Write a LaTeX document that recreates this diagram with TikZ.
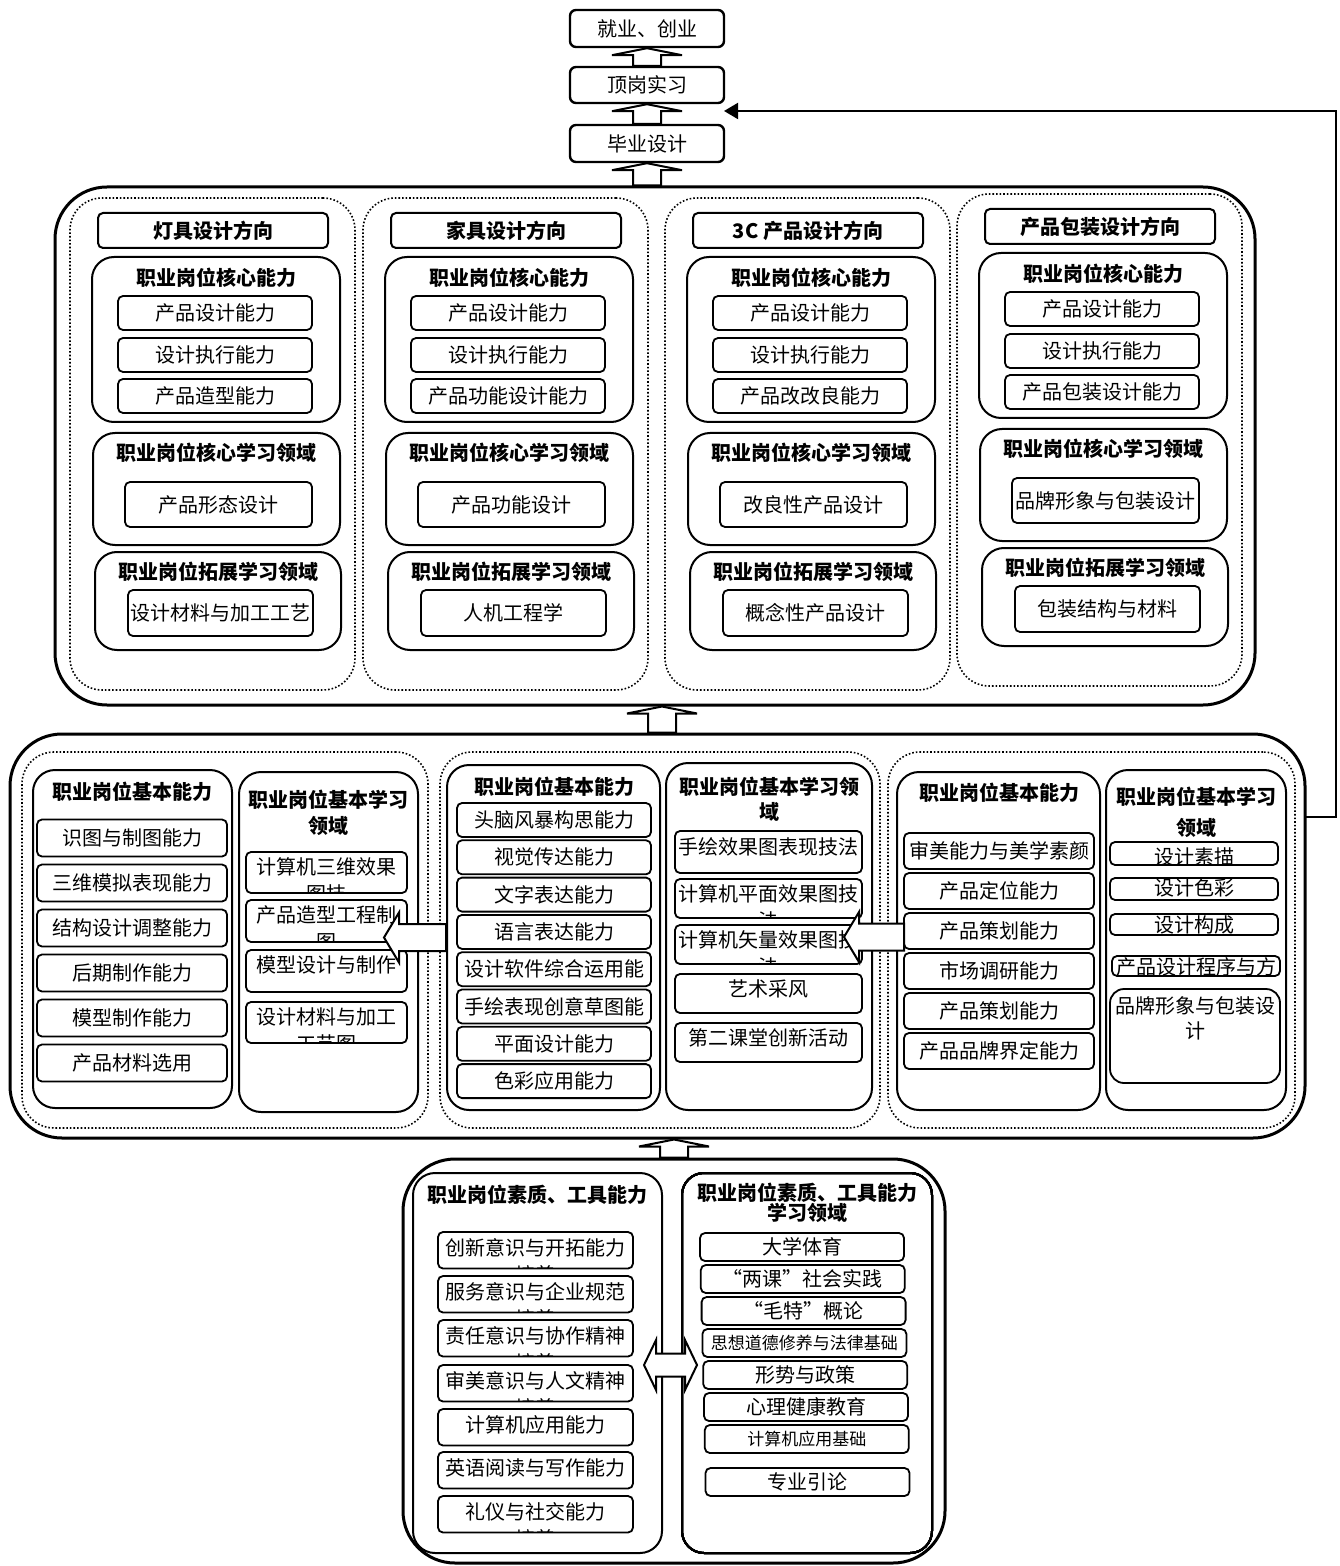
\documentclass[tikz,border=0pt]{standalone}
\usepackage{fontspec}
\setmainfont{Noto Sans CJK SC}
\usetikzlibrary{calc,fit,arrows.meta}

% hollow block arrows: tip, tail
\newcommand\uparr[2]{\draw[blk] let \p1=#1, \p2=#2 in
  (\x1,\y1) -- (\x1+17.5pt,\y1-3.5pt) -- (\x1+7pt,\y1-3.5pt) -- (\x1+7pt,\y2)
  -- (\x1-7pt,\y2) -- (\x1-7pt,\y1-3.5pt) -- (\x1-17.5pt,\y1-3.5pt) -- cycle;}
\newcommand\leftarr[2]{\draw[blk] let \p1=#1, \p2=#2 in
  (\x1,\y2) -- (\x1+7.5pt,\y2+12.5pt) -- (\x1+7.5pt,\y2+6.75pt) -- (\x2,\y2+6.75pt)
  -- (\x2,\y2-6.75pt) -- (\x1+7.5pt,\y2-6.75pt) -- (\x1+7.5pt,\y2-12.5pt) -- cycle;}
\newcommand\dblarr[2]{\draw[blk] let \p1=#1, \p2=#2 in
  (\x1,\y1) -- (\x1+6pt,\y1+12.5pt) -- (\x1+6pt,\y1+5.75pt) -- (\x2-6pt,\y1+5.75pt)
  -- (\x2-6pt,\y1+12.5pt) -- (\x2,\y1) -- (\x2-6pt,\y1-12.5pt) -- (\x2-6pt,\y1-5.75pt)
  -- (\x1+6pt,\y1-5.75pt) -- (\x1+6pt,\y1-12.5pt) -- cycle;}
% box whose text is cut off at its border
\newcommand\cutbox[7][]{%
  \begin{scope}
    \clip[rounded corners=2.5pt] (#3,#4) rectangle (#5,#6);
    \node[cut,#1] (#2) at ({(#3+#5)/2},{#4+5}) {#7};
  \end{scope}
  \draw[itm] (#3,#4) rectangle (#5,#6);}

\begin{document}
\begin{tikzpicture}[x=0.5pt,y=-0.5pt,
    outer/.style={draw,line width=1.5pt,rounded corners=26pt,inner sep=0pt},
    dots/.style={draw,densely dotted,line width=0.8pt,rounded corners=16pt,inner sep=0pt},
    pan/.style={draw,line width=1pt,rounded corners=11pt,inner sep=0pt},
    itm/.style={draw,line width=0.9pt,rounded corners=2.5pt,inner sep=0pt,font=\fontsize{10}{12}\selectfont},
    cut/.style={anchor=north,inner sep=0pt,align=center,font=\fontsize{10}{13.5}\selectfont},
    ttl/.style={inner sep=0pt,align=center,font=\bfseries\fontsize{10}{13}\selectfont},
    hdbox/.style={itm,line width=1pt,minimum width=115pt,minimum height=17.5pt,font=\bfseries\fontsize{10}{12}\selectfont},
    topbox/.style={itm,line width=1.2pt,rounded corners=3pt,minimum width=77pt},
    blk/.style={draw,fill=white,line width=1pt},
    fb/.style={line width=1pt,-{Triangle[length=7pt,width=8pt]}}]
\useasboundingbox (0,0) rectangle (1339,1566);

% top steps
\node[topbox,minimum height=18.5pt] (job) at (647,28.5) {就业、创业};
\node[topbox,minimum height=18pt] (intern) at (647,85) {顶岗实习};
\node[topbox,minimum height=18.5pt] (grad) at (647,143.5) {毕业设计};

% directions
\node[outer,fit={(55,187)(1255,705)}] (top) {};
\foreach \i/\dx/\dy/\dname/\capa/\capb/\capc/\core/\ext in {
    1/0/0/灯具设计方向/产品设计能力/设计执行能力/产品造型能力/产品形态设计/设计材料与加工工艺,
    2/293/0/家具设计方向/产品设计能力/设计执行能力/产品功能设计能力/产品功能设计/人机工程学,
    3/595/0/3C 产品设计方向/产品设计能力/设计执行能力/产品改改良能力/改良性产品设计/概念性产品设计,
    4/887/-4/产品包装设计方向/产品设计能力/设计执行能力/产品包装设计能力/品牌形象与包装设计/包装结构与材料}{
  \node[dots,fit={(70+\dx,198+\dy)(355+\dx,690+\dy)}] (dir\i) {};
  \node[hdbox] (hd\i) at (213+\dx,230.5+\dy) {\dname};
  \node[pan,fit={(92+\dx,257+\dy)(340+\dx,422+\dy)}] (cap\i) {};
  \node[ttl] (capT\i) at (216+\dx,278+\dy) {职业岗位核心能力};
  \node[itm,minimum width=97pt,minimum height=17pt] (ca\i) at (215+\dx,313+\dy) {\capa};
  \node[itm,minimum width=97pt,minimum height=17pt] (cb\i) at (215+\dx,355+\dy) {\capb};
  \node[itm,minimum width=97pt,minimum height=17pt] (cc\i) at (215+\dx,396+\dy) {\capc};
  \node[pan,fit={(93+\dx,433+\dy)(340+\dx,545+\dy)}] (st\i) {};
  \node[ttl] (stT\i) at (216+\dx,453+\dy) {职业岗位核心学习领域};
  \node[itm,minimum width=93.5pt,minimum height=22.5pt] (sti\i) at (218.5+\dx,504.5+\dy) {\core};
  \node[pan,fit={(95+\dx,552+\dy)(341+\dx,650+\dy)}] (ex\i) {};
  \node[ttl] (exT\i) at (218+\dx,572+\dy) {职业岗位拓展学习领域};
  \node[itm,minimum width=92.5pt,minimum height=23pt] (exi\i) at (220.5+\dx,613+\dy) {\ext};
}

% basic abilities
\node[outer,fit={(10,734)(1305,1138)}] (mid) {};
\node[dots,fit={(22,752)(428,1128)}] (grpA) {};
\node[dots,fit={(440,752)(880,1128)}] (grpB) {};
\node[dots,fit={(888,752)(1295,1128)}] (grpC) {};

\node[pan,fit={(33,770)(232,1108)}] (aAb) {};
\node[ttl] (aAbT) at (132,792) {职业岗位基本能力};
\foreach \t [count=\k from 0] in {识图与制图能力,三维模拟表现能力,结构设计调整能力,后期制作能力,模型制作能力,产品材料选用}
  \node[itm,minimum width=95pt,minimum height=18.5pt] (ab\k) at (132,838+45*\k) {\t};
\node[pan,fit={(239,772)(418,1112)}] (aLe) {};
\node[ttl] (aLeT) at (328,813) {职业岗位基本学习\\领域};
\cutbox{al1}{246}{852}{407}{893}{计算机三维效果\\图技}
\cutbox{al2}{246}{900}{407}{942}{产品造型工程制\\图}
\cutbox{al3}{246}{950}{407}{992}{模型设计与制作}
\cutbox{al4}{246}{1002}{407}{1043}{设计材料与加工\\工艺图}

\node[pan,fit={(447,765)(660,1110)}] (bAb) {};
\node[ttl] (bAbT) at (554,787) {职业岗位基本能力};
\foreach \t [count=\k from 0] in {头脑风暴构思能力,视觉传达能力,文字表达能力,语言表达能力,设计软件综合运用能,手绘表现创意草图能,平面设计能力,色彩应用能力}
  \node[itm,minimum width=97pt,minimum height=17pt] (bb\k) at (554,820+37.3*\k) {\t};
\node[pan,fit={(666,763)(872,1110)}] (bLe) {};
\node[ttl,font=\bfseries\fontsize{10}{12.5}\selectfont] (bLeT) at (769,799.5) {职业岗位基本学习领\\域};
\cutbox[yshift=-0.5pt]{bl1}{675}{831}{862}{873}{手绘效果图表现技法}
\cutbox{bl2}{675}{879}{862}{918}{计算机平面效果图技\\法}
\cutbox{bl3}{675}{925}{862}{964}{计算机矢量效果图技\\法}
\cutbox{bl4}{675}{974}{862}{1013}{艺术采风}
\cutbox{bl5}{675}{1023}{862}{1062}{第二课堂创新活动}

\node[pan,fit={(897,772)(1100,1110)}] (cAb) {};
\node[ttl] (cAbT) at (999,793) {职业岗位基本能力};
\foreach \t [count=\k from 0] in {审美能力与美学素颜,产品定位能力,产品策划能力,市场调研能力,产品策划能力,产品品牌界定能力}
  \node[itm,minimum width=95pt,minimum height=18pt] (cb\k) at (999,851+40*\k) {\t};
\node[pan,fit={(1106,770)(1286,1110)}] (cLe) {};
\node[ttl,font=\bfseries\fontsize{10}{15.5}\selectfont] (cLeT) at (1196,812.5) {职业岗位基本学习\\领域};
\cutbox{cl1}{1110}{842}{1278}{865}{设计素描}
\cutbox[yshift=2.5pt]{cl2}{1110}{878}{1278}{900}{设计色彩}
\cutbox[yshift=2pt]{cl3}{1110}{914}{1278}{935}{设计构成}
\cutbox[yshift=2pt]{cl4}{1112}{956}{1280}{976}{产品设计程序与方}
\draw[itm,rounded corners=7pt] (1110,989) rectangle (1280,1083);
\node[cut,font=\fontsize{10}{12.5}\selectfont] (cl5) at (1195,996) {品牌形象与包装设\\计};

% quality and tool abilities
\node[outer,fit={(403,1159)(945,1563)}] (bot) {};
\node[pan,fit={(413,1173)(662,1553)}] (qL) {};
\node[ttl] (qLT) at (537,1195) {职业岗位素质、工具能力};
\foreach \t/\y [count=\k] in {创新意识与开拓能力\\培养/1232,服务意识与企业规范\\培养/1276,责任意识与协作精神\\培养/1320,
    审美意识与人文精神\\培养/1365,计算机应用能力/1409,英语阅读与写作能力/1452,礼仪与社交能力\\培养/1496}
  \cutbox[yshift=-0.5pt]{qa\k}{438}{\y}{633}{\y+36.5}{\t}
\node[pan,fit={(682,1173)(932,1553)}] (qR) {};
\node[ttl,font=\bfseries\fontsize{10}{10}\selectfont] (qRT) at (807,1203) {职业岗位素质、工具能力\\学习领域};
\foreach \t/\s [count=\k from 0] in {大学体育/10,“两课”社会实践/10,“毛特”概论/10,思想道德修养与法律基础/8.5,形势与政策/10,心理健康教育/10,计算机应用基础/8.5}
  \node[itm,minimum width=102pt,minimum height=14pt,font=\fontsize{\s}{12}\selectfont] (qb\k) at (802+0.8*\k,1247+32*\k) {\t};
\node[itm,minimum width=102pt,minimum height=14pt] (qb7) at (807.5,1482) {专业引论};

% arrows
\uparr{(job.south)}{(intern.north)}
\uparr{(intern.south)}{(grad.north)}
\uparr{(grad.south)}{(top.north)}
\uparr{($(top.south)+(7,0)$)}{(mid.north)}
\uparr{(bot.north |- mid.south)}{(bot.north)}
\leftarr{($(bAb.west)+(-62,0)$)}{(bAb.west)}
\leftarr{($(cAb.west)+(-52,0)$)}{($(cAb.west)+(8,-4)$)}
\dblarr{($(qL.east)+(-19,2)$)}{($(qR.west)+(16,2)$)}

\coordinate (fbS) at (1305,817);
\coordinate (fbE) at (724,111);
\draw[fb] (fbS) -- ++(31,0) |- (fbE);
\end{tikzpicture}
\end{document}
